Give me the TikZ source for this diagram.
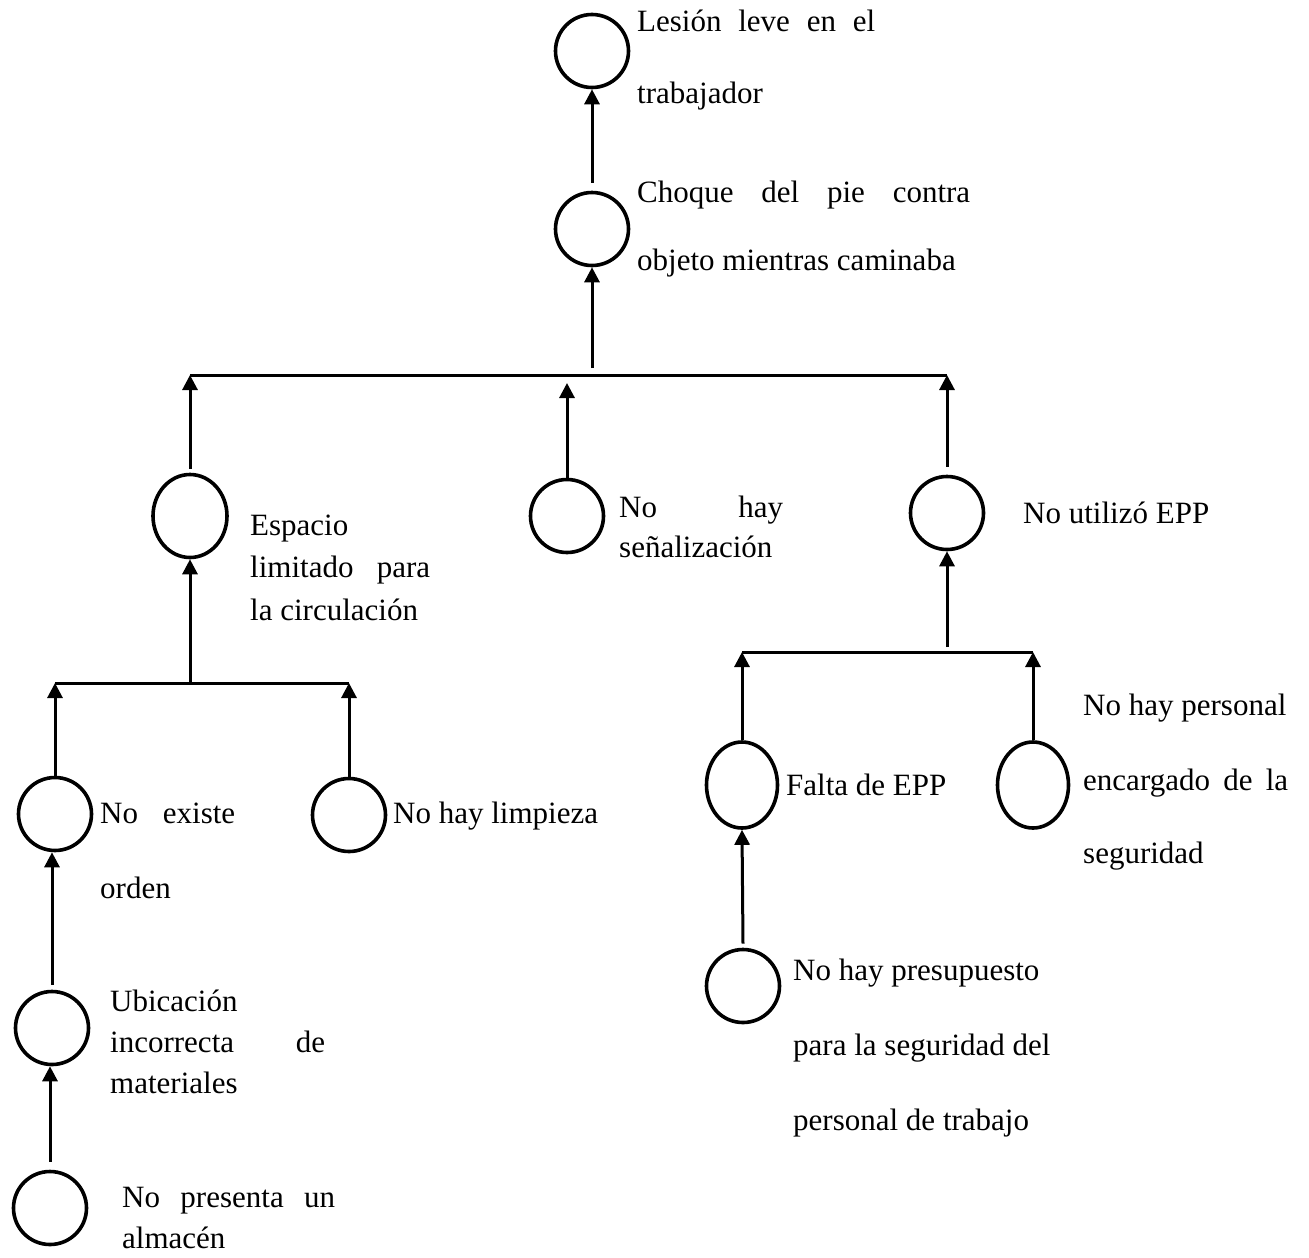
\documentclass[tikz,border=0pt]{standalone}
\usepackage{fontspec}
\setmainfont{Liberation Serif}
\usetikzlibrary{arrows.meta,shapes.geometric}
\begin{document}
\begin{tikzpicture}[x=1pt,y=-1pt,
  circ/.style={draw,circle,line width=3.6pt,minimum size=73pt,inner sep=0pt},
  ell/.style={draw,ellipse,line width=3.6pt,minimum width=71pt,minimum height=86pt,inner sep=0pt},
  arr/.style={line width=3pt,-{Triangle[length=15pt,width=15pt]}},
  barline/.style={line width=3pt},
  lbl/.style={anchor=base west,inner sep=0pt,font=\fontsize{31}{37}\selectfont}]
\useasboundingbox (0,0) rectangle (1309,1258);

% circles
\node[circ] (n1) at (592,51) {};
\node[circ] (n2) at (592,229) {};
\node[ell,minimum width=74pt,minimum height=83pt] (n3) at (190,516) {};
\node[circ] (n4) at (567,516) {};
\node[circ] (n5) at (947,513) {};
\node[circ] (n6) at (55,814) {};
\node[circ] (n7) at (349,815) {};
\node[circ] (n8) at (52,1028) {};
\node[circ] (n9) at (50,1208) {};
\node[ell]  (n10) at (742,785) {};
\node[ell]  (n11) at (1033,785) {};
\node[circ] (n12) at (743,986) {};

% bar coordinates
\coordinate (b1L) at (190,375);
\coordinate (b1R) at (947,375);
\coordinate (b1M) at (592,375);
\coordinate (b1m) at (567,383);
\coordinate (b2L) at (742,652);
\coordinate (b2R) at (1033,652);
\coordinate (b2M) at (947,652);
\coordinate (b3L) at (55,683);
\coordinate (b3R) at (349,683);
\coordinate (b3M) at (190,683);

\draw[barline] (b1L) -- (b1R);
\draw[barline] (b2L) -- (b2R);
\draw[barline] (b3L) -- (b3R);

% connectors
\draw[arr] ([yshift=8pt]n2.north) -- (n1.south);
\draw[arr] ([yshift=7pt]b1M) -- (n2.south);
\draw[arr] ([yshift=4pt]n3.north) -- (b1L);
\draw[arr] (n4.north) -- (b1m);
\draw[arr] ([yshift=8pt]n5.north) -- (b1R);
\draw[arr] ([yshift=5pt]b2M) -- (n5.south);
\draw[arr] (n10.north) -- (b2L);
\draw[arr] (n11.north) -- (b2R);
\draw[arr] ([yshift=4pt]n12.north) -- (n10.south);
\draw[arr] (b3M) -- (n3.south);
\draw[arr] (n6.north) -- (b3L);
\draw[arr] (n7.north) -- (b3R);
\draw[arr] ([yshift=5pt]n8.north) -- (n8.north |- n6.south);
\draw[arr] ([yshift=8pt]n9.north) -- (n9.north |- n8.south);

% labels
\node[lbl] (t1a) at (637,31) {\makebox[238pt][s]{Lesión leve en el}};
\node[lbl] (t1b) at (637,103) {trabajador};
\node[lbl] (t2a) at (637,202) {\makebox[333pt][s]{Choque del pie contra}};
\node[lbl] (t2b) at (637,270) {objeto mientras caminaba};
\node[lbl] (t3a) at (250,535) {Espacio};
\node[lbl] (t3b) at (250,577) {\makebox[180pt][s]{limitado para}};
\node[lbl] (t3c) at (250,620) {la circulación};
\node[lbl] (t4a) at (619,517) {\makebox[164pt][s]{No hay}};
\node[lbl] (t4b) at (619,557) {señalización};
\node[lbl] (t5) at (1023,523) {No utilizó EPP};
\node[lbl] (t6a) at (100,823) {\makebox[135pt][s]{No existe}};
\node[lbl] (t6b) at (100,898) {orden};
\node[lbl] (t7) at (393,823) {No hay limpieza};
\node[lbl] (t8a) at (110,1011) {Ubicación};
\node[lbl] (t8b) at (110,1052) {\makebox[215pt][s]{incorrecta de}};
\node[lbl] (t8c) at (110,1093) {materiales};
\node[lbl] (t9a) at (122,1207) {\makebox[213pt][s]{No presenta un}};
\node[lbl] (t9b) at (122,1248) {almacén};
\node[lbl] (t10) at (786,795) {Falta de EPP};
\node[lbl] (t11a) at (1083,715) {No hay personal};
\node[lbl] (t11b) at (1083,790) {\makebox[205pt][s]{encargado de la}};
\node[lbl] (t11c) at (1083,863) {seguridad};
\node[lbl] (t12a) at (793,980) {No hay presupuesto};
\node[lbl] (t12b) at (793,1055) {para la seguridad del};
\node[lbl] (t12c) at (793,1130) {personal de trabajo};
\end{tikzpicture}
\end{document}
